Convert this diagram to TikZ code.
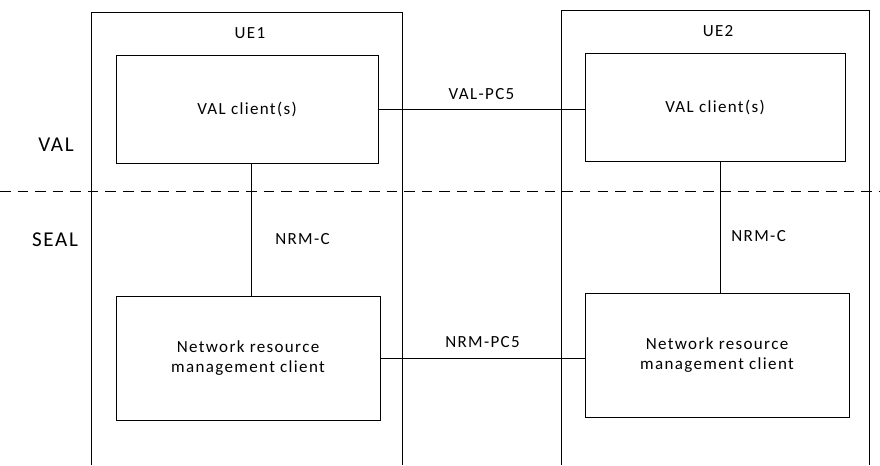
\documentclass[tikz,border=0pt]{standalone}
\usepackage{fontspec}
\setmainfont[LetterSpace=8]{Carlito}
\usepackage{tikz}
\usetikzlibrary{positioning, calc}

\begin{document}
\begin{tikzpicture}[
    x=0.03cm, y=-0.03cm,
    every node/.style={font=\fontsize{14.5}{17.5}\selectfont},
    client/.style={rectangle, draw, thick, align=center, minimum width=#1},
    client/.default=7.86cm,
    link/.style={thick},
    layer/.style={font=\fontsize{18}{21}\selectfont}
]
\useasboundingbox (0,0) rectangle (880,465);

% UE frames (open at the bottom)
\coordinate (ue1bl) at (91,465);
\coordinate (ue1tr) at (402,12);
\coordinate (ue2bl) at (561,465);
\coordinate (ue2tr) at (869,10);
\draw[link] (ue1bl) |- (ue1tr) -- (ue1tr |- ue1bl);
\draw[link] (ue2bl) |- (ue2tr) -- (ue2tr |- ue2bl);
\node (ue1) at (250,33) {UE1};
\node (ue2) at (718,31) {UE2};

% clients
\node[client, minimum height=3.24cm] (val1) at (247,109) {VAL client(s)};
\node[client=7.8cm, minimum height=3.24cm] (val2) at (715,107) {VAL client(s)};
\node[client=7.92cm, minimum height=3.72cm] (nrm1) at (248,358) {Network resource\\management client};
\node[client=7.92cm, minimum height=3.72cm] (nrm2) at (717,355) {Network resource\\management client};

% layer split
\coordinate (splitw) at (0,191);
\coordinate (splite) at (880,191);
\draw[thick, dash pattern=on 9pt off 6pt] (splitw) -- (splite);
\node[layer] (val) at (56,145) {VAL};
\node[layer] (seal) at (55,240) {SEAL};

% reference points
\draw[link] (val1.east) -- node[above=4pt] {VAL-PC5} (val1.east -| val2.west);
\draw[link] (nrm1.east) -- node[above=5pt] {NRM-PC5} (nrm1.east -| nrm2.west);
\draw[link] ([xshift=0.12cm]val1.south) -- node[right=17pt, yshift=-8pt] {NRM-C} ([xshift=0.12cm]val1.south |- nrm1.north);
\draw[link] ([xshift=0.15cm]val2.south) -- node[right=6pt, yshift=-8pt] {NRM-C} ([xshift=0.15cm]val2.south |- nrm2.north);

\end{tikzpicture}
\end{document}
